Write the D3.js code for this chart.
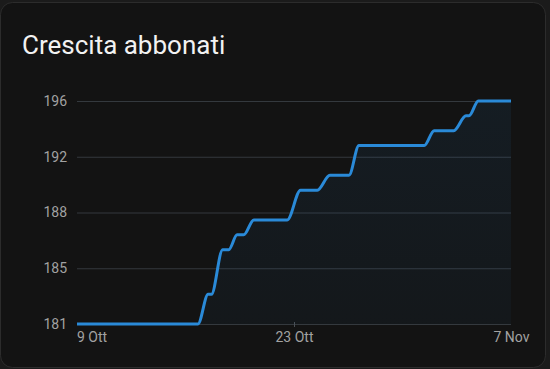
<!DOCTYPE html>
<html>
<head>
<meta charset="utf-8">
<script src="https://cdn.jsdelivr.net/npm/d3@7"></script>
<style>
  html, body { margin: 0; padding: 0; background: #1b1b1b; }
  svg { display: block; font-family: Roboto, "Noto Sans", sans-serif; }
</style>
</head>
<body>
<div class="graph"></div>
<script>
// Subscriber counts (corner points of each step)
const times = [
  "2023-10-08T00:00", "2023-10-16T08:40", "2023-10-17T01:30", "2023-10-17T07:00",
  "2023-10-18T01:40", "2023-10-18T11:45", "2023-10-19T01:40", "2023-10-19T12:30",
  "2023-10-20T05:20", "2023-10-22T12:45", "2023-10-23T10:50", "2023-10-24T14:40",
  "2023-10-25T11:30", "2023-10-26T19:10", "2023-10-27T11:45", "2023-11-01T00:00",
  "2023-11-01T16:30", "2023-11-03T01:00", "2023-11-03T21:20", "2023-11-04T02:20",
  "2023-11-04T17:45", "2023-11-07T00:00"
];
const subscribers = [
  181, 181, 183, 183,
  186, 186, 187, 187,
  188, 188, 190, 190,
  191, 191, 193, 193,
  194, 194, 195, 195,
  196, 196
];

// Axis ticks
const yTicks = [181, 184.75, 188.5, 192.25, 196];
const yLabels = ["181", "185", "188", "192", "196"];
const xTicks = ["2023-10-09T00:00", "2023-10-23T00:00", "2023-11-07T00:00"];
const xLabels = ["9 Ott", "23 Ott", "7 Nov"];

const title = "Crescita abbonati";

let WIDTH = 550,
    HEIGHT = 369;

const data = times.map((t, i) => ({ date: new Date(t), value: subscribers[i] }));

let svg = d3.select(".graph")
  .append("svg")
  .attr("width", WIDTH)
  .attr("height", HEIGHT);

//Card
svg.append("rect")
  .attr("x", 0.5)
  .attr("y", 2.5)
  .attr("width", 545)
  .attr("height", 365)
  .attr("rx", 12)
  .style("fill", "#131313")
  .style("stroke", "#2c2c2c");

svg.append("text")
  .attr("x", 22)
  .attr("y", 54)
  .style("fill", "#f2f2f2")
  .attr("font-size", "26px")
  .text(title);

//Scales
let xScale = d3.scaleTime()
  .domain([new Date("2023-10-08T00:00"), new Date("2023-11-07T00:00")])
  .range([77, 511]);

let yScale = d3.scaleLinear()
  .domain([181, 196])
  .range([324, 101]);

//Y axis with gridlines
svg.append("g")
  .attr("transform", "translate(77, 0)")
  .call(d3.axisLeft(yScale)
    .tickValues(yTicks)
    .tickFormat((d, i) => yLabels[i])
    .tickSize(-434)
    .tickPadding(10))
  .call(g => {
    g.select(".domain").remove();
    g.selectAll(".tick line").style("stroke", "#34393e");
    g.selectAll(".tick text")
      .style("fill", "#a2a2a2")
      .attr("font-size", "14px")
      .attr("font-family", "Roboto, sans-serif");
  });

//X axis
svg.append("g")
  .attr("transform", "translate(0, 324)")
  .call(d3.axisBottom(xScale)
    .tickValues(xTicks.map(t => new Date(t)))
    .tickFormat((d, i) => xLabels[i])
    .tickSize(3)
    .tickPadding(5))
  .call(g => {
    g.select(".domain").remove();
    g.selectAll(".tick line")
      .style("stroke", "#4a4f54")
      .attr("y1", -2)
      .style("opacity", (d, i) => (i === 1 ? 1 : 0));
    g.selectAll(".tick text")
      .style("fill", "#a2a2a2")
      .attr("font-size", "14px")
      .attr("font-family", "Roboto, sans-serif");
  });

//Area under the line
let grad = svg.append("defs")
  .append("linearGradient")
  .attr("id", "fade")
  .attr("x1", 0).attr("y1", 0)
  .attr("x2", 0).attr("y2", 1);
grad.append("stop").attr("offset", "0%").style("stop-color", "#2a8ad8").style("stop-opacity", 0.08);
grad.append("stop").attr("offset", "100%").style("stop-color", "#2a8ad8").style("stop-opacity", 0.04);

svg.append("path")
  .datum(data)
  .attr("d", d3.area()
    .x(d => xScale(d.date))
    .y0(yScale(181))
    .y1(d => yScale(d.value))
    .curve(d3.curveMonotoneX))
  .style("fill", "url(#fade)");

//Line
svg.append("path")
  .datum(data)
  .attr("d", d3.line()
    .x(d => xScale(d.date))
    .y(d => yScale(d.value))
    .curve(d3.curveMonotoneX))
  .style("fill", "none")
  .style("stroke", "#2a8ad8")
  .style("stroke-width", 3)
  .style("stroke-linejoin", "round");
</script>
</body>
</html>
